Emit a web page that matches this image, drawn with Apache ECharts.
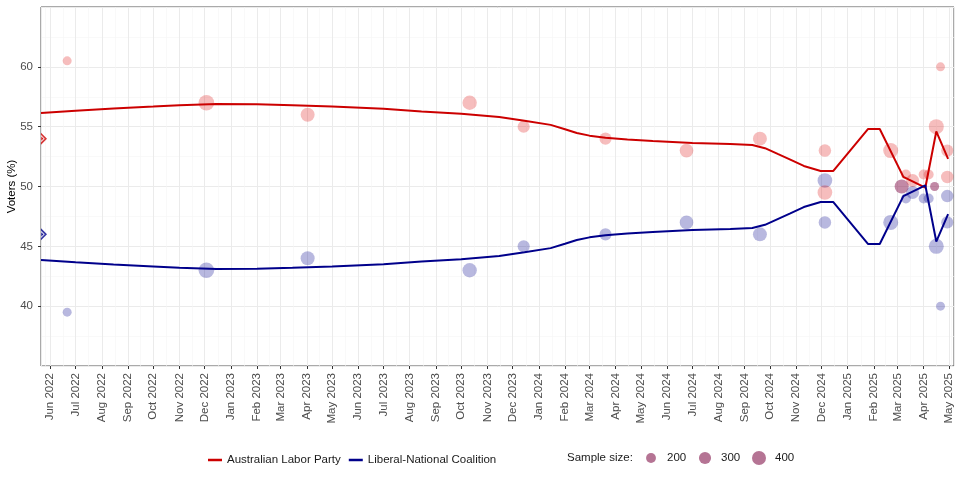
<!DOCTYPE html>
<html>
<head>
<meta charset="utf-8">
<script src="https://cdn.jsdelivr.net/npm/echarts@6/dist/echarts.min.js"></script>
<style>
html,body{margin:0;padding:0;background:#fff;}
#chart{width:960px;height:480px;}
</style>
</head>
<body>
<div id="chart"></div>
<script>
// ---- data ----
const pollDates = ['2022-06-21','2022-12-03','2023-04-02','2023-10-11','2023-12-14','2024-03-20','2024-06-24','2024-09-19','2024-12-05','2024-12-05','2025-02-21','2025-03-06','2025-03-11','2025-03-19','2025-04-01','2025-04-07','2025-04-14','2025-04-16','2025-04-21','2025-04-29','2025-04-29'];
const alpPolls  = [60.5, 57, 56, 57, 55, 54, 53, 54, 53, 49.5, 53, 50, 51, 50.5, 51, 51, 50, 55, 60, 53, 50.8];
const lnpPolls  = [39.5, 43, 44, 43, 45, 46, 47, 46, 47, 50.5, 47, 50, 49, 49.5, 49, 49, 50, 45, 40, 47, 49.2];
const sampleSizes = [165, 500, 400, 420, 300, 300, 380, 400, 320, 440, 460, 400, 200, 340, 200, 200, 165, 460, 165, 300, 320];

const trendDates = ['2022-05-21','2022-07-01','2022-08-15','2022-10-01','2022-11-01','2022-12-15','2023-02-01','2023-03-15','2023-05-01','2023-07-01','2023-08-15','2023-10-01','2023-11-15','2023-12-15','2024-01-15','2024-02-01','2024-02-15','2024-03-01','2024-03-20','2024-04-15','2024-05-15','2024-07-01','2024-08-15','2024-09-10','2024-09-25','2024-10-10','2024-10-25','2024-11-10','2024-11-30','2024-12-15','2025-01-25','2025-02-08','2025-03-08','2025-04-03','2025-04-16','2025-04-30'];
const alpTrend = [56.15,56.33,56.52,56.68,56.80,56.90,56.88,56.80,56.68,56.50,56.27,56.08,55.80,55.50,55.15,54.78,54.47,54.25,54.08,53.93,53.80,53.64,53.56,53.46,53.20,52.72,52.25,51.72,51.30,51.30,54.80,54.80,50.80,49.90,54.60,52.30];
const lnpTrend = [43.85,43.67,43.48,43.32,43.20,43.10,43.12,43.20,43.32,43.50,43.73,43.92,44.20,44.50,44.85,45.22,45.53,45.75,45.92,46.07,46.20,46.36,46.44,46.54,46.80,47.28,47.75,48.28,48.70,48.70,45.20,45.20,49.20,50.10,45.40,47.70];

const electionDate = '2022-05-21';
const electionAlp = 54;
const electionLnp = 46;

const sizeBreaks = [200, 300, 400];
const seriesNames = ['Australian Labor Party', 'Liberal-National Coalition'];

// ---- styling ----
const ALP_LINE = '#cc0000';
const LNP_LINE = '#00008b';
const ALP_PT = 'rgba(221,17,17,0.35)';
const LNP_PT = 'rgba(0,0,139,0.35)';
const FONT = 'Liberation Sans, Arial, sans-serif';
const sz = n => 0.7 * Math.sqrt(n);

const chart = echarts.init(document.getElementById('chart'), null, {renderer: 'canvas'});

const halfDiamond = 'path://M0,0L10,10L0,20Z';

function pts(vals) {
  return pollDates.map((d, i) => [d, vals[i], sampleSizes[i]]);
}

// sample size legend graphics
const LEG_Y = 458;
const graphics = [{
  type: 'text', x: 567, y: LEG_Y,
  style: {text: 'Sample size:', font: '11.5px ' + FONT, fill: '#1a1a1a', verticalAlign: 'middle'}
}];
let gx = 651;
sizeBreaks.forEach((b) => {
  const r = sz(b) / 2;
  graphics.push({type: 'circle', shape: {cx: gx, cy: LEG_Y, r: r}, style: {fill: '#b57494'}});
  graphics.push({type: 'text', x: gx + 16, y: LEG_Y, style: {text: String(b), font: '11.5px ' + FONT, fill: '#1a1a1a', verticalAlign: 'middle'}});
  gx += 54;
});

const option = {
  animation: false,
  backgroundColor: '#fff',
  textStyle: {fontFamily: FONT},
  grid: {left: 41, right: 6, top: 7, bottom: 114, show: true, borderColor: '#555', borderWidth: 1, backgroundColor: '#fff', containLabel: false, outerBoundsMode: 'none'},
  legend: {
    data: [{name: seriesNames[0], icon: 'rect'}, {name: seriesNames[1], icon: 'rect'}],
    left: 203, top: 449, itemWidth: 14, itemHeight: 2.5, itemGap: 8,
    textStyle: {fontSize: 11.5, color: '#1a1a1a', fontFamily: FONT},
    selectedMode: false
  },
  graphic: graphics,
  xAxis: {
    type: 'time',
    min: '2022-05-21', max: '2025-05-07',
    splitNumber: 40,
    minInterval: 28 * 86400000,
    maxInterval: 31 * 86400000,
    axisLine: {show: false},
    axisTick: {show: true, length: 3, lineStyle: {color: '#333'}},
    axisLabel: {rotate: 90, interval: 0, formatter: '{MMM} {yyyy}', fontSize: 11.5, color: '#4d4d4d', margin: 7, fontFamily: FONT, showMinLabel: false, showMaxLabel: false},
    splitLine: {show: true, lineStyle: {color: '#ebebeb', width: 1}},
    minorTick: {show: false, splitNumber: 2},
    minorSplitLine: {show: true, lineStyle: {color: '#f5f5f5', width: 0.6}}
  },
  yAxis: {
    type: 'value',
    min: 35, max: 65, interval: 5,
    name: 'Voters (%)', nameLocation: 'middle', nameGap: 23, nameRotate: 90, nameMoveOverlap: false,
    nameTextStyle: {fontSize: 11.5, color: '#000', fontFamily: FONT},
    axisLine: {show: false},
    axisTick: {show: true, length: 3, lineStyle: {color: '#333'}},
    axisLabel: {fontSize: 11.5, color: '#4d4d4d', margin: 8, showMinLabel: false, showMaxLabel: false, fontFamily: FONT},
    splitLine: {show: true, lineStyle: {color: '#ebebeb', width: 1}},
    minorTick: {show: false, splitNumber: 2},
    minorSplitLine: {show: true, lineStyle: {color: '#f5f5f5', width: 0.6}}
  },
  series: [
    {
      name: 'LNP polls', type: 'scatter', data: pts(lnpPolls),
      symbolSize: v => sz(v[2]), itemStyle: {color: LNP_PT}, z: 2
    },
    {
      name: 'ALP polls', type: 'scatter', data: pts(alpPolls),
      symbolSize: v => sz(v[2]), itemStyle: {color: ALP_PT}, z: 2
    },
    {
      name: seriesNames[0], type: 'line', showSymbol: false, symbol: 'none',
      data: trendDates.map((d, i) => [d, alpTrend[i]]),
      lineStyle: {color: ALP_LINE, width: 2}, itemStyle: {color: ALP_LINE}, z: 3
    },
    {
      name: seriesNames[1], type: 'line', showSymbol: false, symbol: 'none',
      data: trendDates.map((d, i) => [d, lnpTrend[i]]),
      lineStyle: {color: LNP_LINE, width: 2}, itemStyle: {color: LNP_LINE}, z: 3
    },
    {
      name: 'Election outer', type: 'scatter', symbol: halfDiamond, symbolSize: [6, 12], symbolOffset: [3, 0],
      data: [{value: [electionDate, electionAlp], itemStyle: {color: ALP_LINE}}, {value: [electionDate, electionLnp], itemStyle: {color: LNP_LINE}}],
      z: 4
    },
    {
      name: 'Election inner', type: 'scatter', symbol: halfDiamond, symbolSize: [3, 6], symbolOffset: [1.5, 0],
      data: [{value: [electionDate, electionAlp], itemStyle: {color: ALP_LINE, borderColor: '#fff', borderWidth: 1}}, {value: [electionDate, electionLnp], itemStyle: {color: LNP_LINE, borderColor: '#fff', borderWidth: 1}}],
      z: 5
    }
  ]
};
chart.setOption(option);
</script>
</body>
</html>
